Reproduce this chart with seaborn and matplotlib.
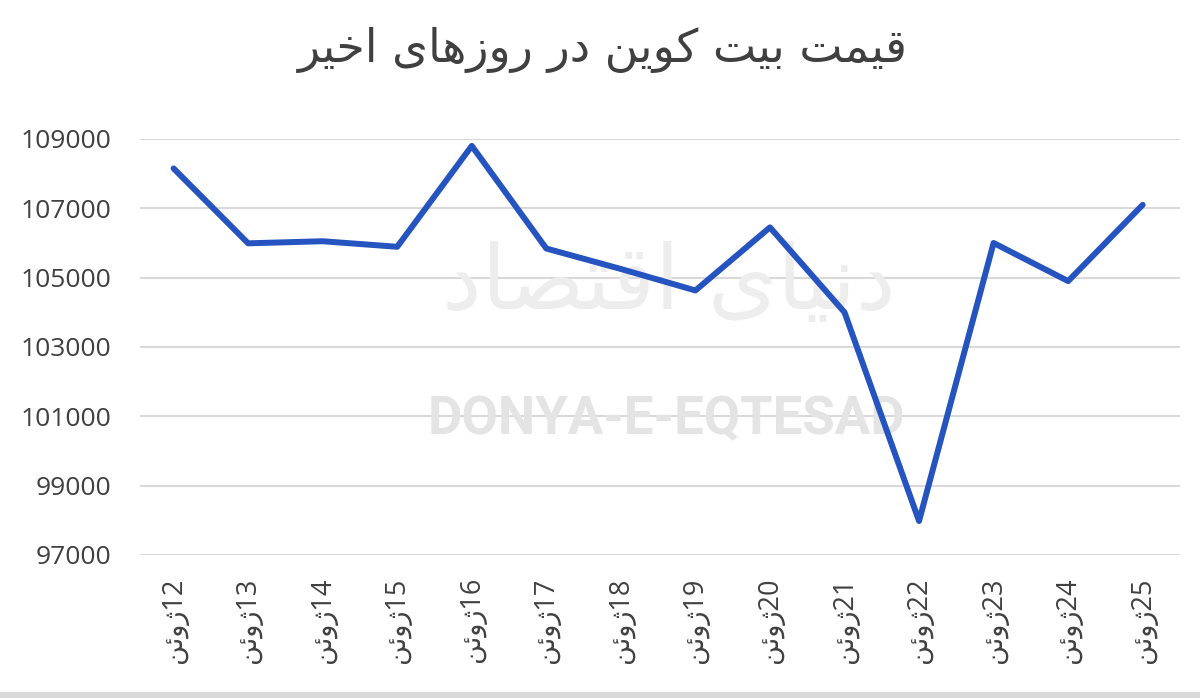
import re
import pandas as pd
import seaborn as sns
import matplotlib.pyplot as plt
from matplotlib.patches import Rectangle

# data
days = [12, 13, 14, 15, 16, 17, 18, 19, 20, 21, 22, 23, 24, 25]
month = 'ژوئن'
prices = [108150, 105990, 106050, 105890, 108800, 105840, 105250,
          104630, 106450, 104000, 97980, 106000, 104900, 107100]
title = 'قیمت بیت کوین در روزهای اخیر'
yticks = [97000, 99000, 101000, 103000, 105000, 107000, 109000]

# minimal arabic-script shaping (matplotlib has no shaping of its own)
FORMS = {
    'ا': ('\uFE8D', '\uFE8E', None, None),
    'ب': ('\uFE8F', '\uFE90', '\uFE91', '\uFE92'),
    'ت': ('\uFE95', '\uFE96', '\uFE97', '\uFE98'),
    'خ': ('\uFEA5', '\uFEA6', '\uFEA7', '\uFEA8'),
    'د': ('\uFEA9', '\uFEAA', None, None),
    'ر': ('\uFEAD', '\uFEAE', None, None),
    'ز': ('\uFEAF', '\uFEB0', None, None),
    'ژ': ('\uFB8A', '\uFB8B', None, None),
    'ص': ('\uFEB9', '\uFEBA', '\uFEBB', '\uFEBC'),
    'ق': ('\uFED5', '\uFED6', '\uFED7', '\uFED8'),
    'ک': ('\uFB8E', '\uFB8F', '\uFB90', '\uFB91'),
    'م': ('\uFEE1', '\uFEE2', '\uFEE3', '\uFEE4'),
    'ن': ('\uFEE5', '\uFEE6', '\uFEE7', '\uFEE8'),
    'ه': ('\uFEE9', '\uFEEA', '\uFEEB', '\uFEEC'),
    'و': ('\uFEED', '\uFEEE', None, None),
    'ی': ('\uFBFC', '\uFBFD', '\uFBFE', '\uFBFF'),
    'ئ': ('\uFE89', '\uFE8A', '\uFE8B', '\uFE8C'),
}


def shape(text):
    out = []
    for i, ch in enumerate(text):
        if ch not in FORMS:
            out.append(ch)
            continue
        prev = text[i - 1] if i > 0 else ''
        nxt = text[i + 1] if i + 1 < len(text) else ''
        after = prev in FORMS and FORMS[prev][2] is not None
        before = FORMS[ch][2] is not None and nxt in FORMS
        iso, fin, ini, med = FORMS[ch]
        if after and before:
            out.append(med)
        elif after:
            out.append(fin)
        elif before:
            out.append(ini)
        else:
            out.append(iso)
    vis = ''.join(out)[::-1]
    return re.sub(r'[0-9]+', lambda m: m.group(0)[::-1], vis)


df = pd.DataFrame({'pos': range(len(days)), 'price': prices})
labels = [shape(f'{d}{month}') for d in days]

sns.set_theme(style='white')
plt.rcParams['font.family'] = ['Open Sans', 'DejaVu Sans']

fig = plt.figure(figsize=(12, 6.98), dpi=100)
ax = fig.add_axes([0.1167, 0.2049, 0.8666, 0.596])

ax.grid(axis='y', color='#D9D9D9', linewidth=1.5, zorder=0)
sns.lineplot(data=df, x='pos', y='price', ax=ax, color='#2554C0',
             linewidth=4.3, solid_capstyle='round', zorder=4)

ax.set_ylim(97000, 109000)
ax.set_xlim(-0.45, 13.5)
ax.set_yticks(yticks)
ax.set_yticklabels([str(v) for v in yticks])
ax.set_xticks(df['pos'])
ax.set_xticklabels(labels, rotation=90, va='top', ha='center')
ax.tick_params(axis='y', length=0, pad=21, labelsize=19, labelcolor='#404040')
ax.tick_params(axis='x', length=0, pad=16, labelsize=19.5, labelcolor='#404040')
ax.set_xlabel('')
ax.set_ylabel('')
for s in ax.spines.values():
    s.set_visible(False)

# watermark
ax.text(0.508, 0.65, shape('دنیای اقتصاد'), transform=ax.transAxes,
        ha='center', va='center', fontsize=64, color='#EDEDED',
        family='DejaVu Sans', zorder=1)
ax.text(0.506, 0.3245, 'DONYA-E-EQTESAD', transform=ax.transAxes,
        ha='center', va='center', fontsize=38, fontweight='bold',
        color='#E4E4E4', family='Roboto', zorder=1)

fig.text(0.502, 1 - 50 / 698, shape(title), ha='center', va='center',
         fontsize=33, color='#404040', family='DejaVu Sans')

fig.patches.append(Rectangle((0, 0), 1, 6 / 698, transform=fig.transFigure,
                             color='#D9D9D9', zorder=0))

fig.savefig('out.png', dpi=100, facecolor='white')
